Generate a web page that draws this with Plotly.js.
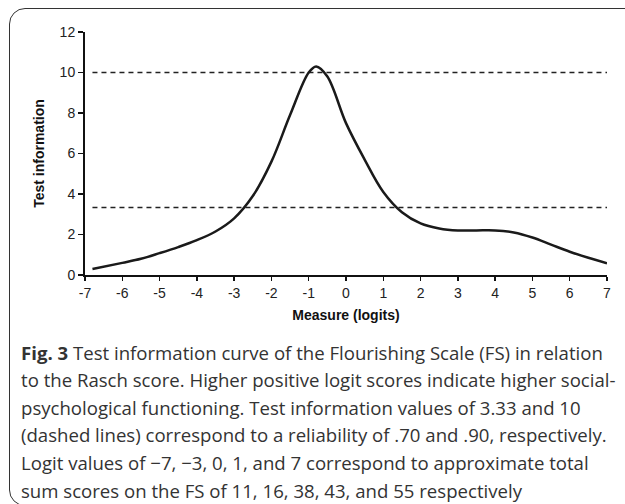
<!DOCTYPE html>
<html>
<head>
<meta charset="utf-8">
<script src="https://cdn.plot.ly/plotly-3.0.1.min.js"></script>
<style>
  html, body { margin:0; padding:0; background:#fff; width:625px; height:504px; overflow:hidden; }
  #frame { position:absolute; left:9px; top:8px; width:720px; height:498px; border:1.5px solid #333; border-radius:16px; box-sizing:border-box; }
  #chart { position:absolute; left:0; top:0; width:625px; height:504px; }
</style>
</head>
<body>
<div id="frame"></div>
<div id="chart"></div>
<script>
const measure = [-6.8, -6, -5.5, -5, -4.5, -4, -3.5, -3, -2.5, -2, -1.5, -1, -0.8, -0.5, 0, 0.5, 1, 1.5, 2, 2.5, 3, 3.5, 4, 4.5, 5, 5.5, 6, 6.5, 7];
const information = [0.3, 0.6, 0.8, 1.08, 1.38, 1.72, 2.15, 2.8, 3.9, 5.6, 7.9, 10.0, 10.3, 9.8, 7.5, 5.7, 4.1, 3.1, 2.55, 2.3, 2.2, 2.2, 2.2, 2.1, 1.85, 1.5, 1.15, 0.85, 0.58];
const thresholdX = [-6.8, 7];
const thresholds = [10, 3.33];
const xTicks = [-7, -6, -5, -4, -3, -2, -1, 0, 1, 2, 3, 4, 5, 6, 7];
const xTickLabels = ["-7", "-6", "-5", "-4", "-3", "-2", "-1", "0", "1", "2", "3", "4", "5", "6", "7"];
const yTicks = [0, 2, 4, 6, 8, 10, 12];
const captionLines = [
  "<b>Fig. 3</b> Test information curve of the Flourishing Scale (FS) in relation",
  "to the Rasch score. Higher positive logit scores indicate higher social-",
  "psychological functioning. Test information values of 3.33 and 10",
  "(dashed lines) correspond to a reliability of .70 and .90, respectively.",
  "Logit values of \u22127, \u22123, 0, 1, and 7 correspond to approximate total",
  "sum scores on the FS of 11, 16, 38, 43, and 55 respectively"
];

const traces = thresholds.map(t => ({
  x: thresholdX, y: thresholdX.map(() => t), mode: 'lines', type: 'scatter',
  line: {color: '#222', width: 1.5, dash: '5px,4px'}, hoverinfo: 'skip', showlegend: false
}));
traces.push({
  x: measure, y: information, mode: 'lines', type: 'scatter',
  line: {color: '#1a1a1a', width: 2.5, shape: 'spline', smoothing: 1}, showlegend: false
});

const captionFont = {family: 'Open Sans, sans-serif', size: 18.6, color: '#333'};
const annotations = captionLines.map((t, i) => ({
  text: t, xref: 'paper', yref: 'paper', x: (19 - 85) / 522, y: (275 - (352 + i * 27.6)) / 243,
  xanchor: 'left', yanchor: 'middle', showarrow: false, align: 'left', font: captionFont
}));

const layout = {
  width: 625, height: 504,
  margin: {l: 85, r: 18, t: 32, b: 229},
  paper_bgcolor: 'rgba(0,0,0,0)', plot_bgcolor: 'rgba(0,0,0,0)',
  font: {family: 'Liberation Sans, Arial, sans-serif', size: 14, color: '#222'},
  xaxis: {
    range: [-7, 7], tickvals: xTicks, ticktext: xTickLabels, ticks: 'outside', ticklen: 4, tickwidth: 1.5, tickcolor: '#111',
    tickfont: {size: 14, color: '#222'},
    showline: true, linecolor: '#111', linewidth: 2, showgrid: false, zeroline: false,
    title: {text: '<b>Measure (logits)</b>', font: {size: 14, color: '#111'}, standoff: 10}
  },
  yaxis: {
    range: [0, 12], tickvals: yTicks, ticks: 'outside', ticklen: 5, tickwidth: 1.5, tickcolor: '#111',
    tickfont: {size: 14, color: '#222'},
    showline: true, linecolor: '#111', linewidth: 2, showgrid: false, zeroline: false,
    title: {text: '<b>Test information</b>', font: {size: 14, color: '#111'}, standoff: 12}
  },
  annotations: annotations
};

Plotly.newPlot('chart', traces, layout, {displayModeBar: false, staticPlot: true});
</script>
</body>
</html>
